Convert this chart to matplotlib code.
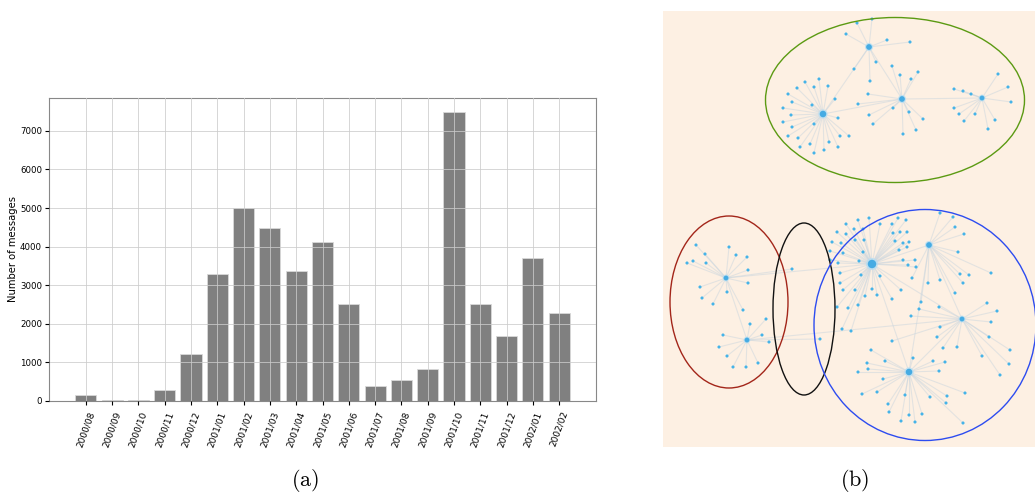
import matplotlib
matplotlib.use("Agg")
import matplotlib.pyplot as plt
from matplotlib.patches import Ellipse, Rectangle

plt.rcParams["mathtext.fontset"] = "cm"

# (a) monthly message counts
months = ["2000/08", "2000/09", "2000/10", "2000/11", "2000/12", "2001/01",
          "2001/02", "2001/03", "2001/04", "2001/05", "2001/06", "2001/07",
          "2001/08", "2001/09", "2001/10", "2001/11", "2001/12", "2002/01",
          "2002/02"]
messages = [160, 30, 30, 290, 1230, 3280, 5000, 4480, 3370, 4130, 2520, 380,
            540, 830, 7490, 2520, 1680, 3700, 2270]

# (b) communication graph layout (panel pixel units), hubs and their leaves
hub_names = ["A", "B", "C", "D", "E", "F", "G", "H", "I", "J"]
hub_x = [823, 902, 869, 982, 726, 747, 872, 929, 962, 909]
hub_y = [114, 99, 47, 98, 278, 340, 264, 245, 319, 372]
hub_rank = [3, 2, 2, 1, 1, 1, 6, 2, 1, 3]

leaves = {
    "A": [(783, 108), (788, 94), (792, 102), (791, 115), (783, 122), (792, 127),
          (788, 136), (798, 138), (800, 147), (810, 144), (814, 153), (824, 150),
          (829, 142), (838, 147), (840, 136), (849, 136), (838, 118), (814, 124),
          (812, 105), (805, 82), (797, 88), (814, 87), (819, 79), (828, 86),
          (835, 99)],
    "B": [(900, 75), (911, 79), (918, 72), (868, 94), (858, 104), (869, 115),
          (873, 124), (893, 108), (909, 112), (923, 119), (916, 130), (903, 134),
          (892, 66)],
    "C": [(846, 34), (857, 23), (872, 19), (887, 40), (910, 42), (876, 62),
          (854, 69), (870, 81)],
    "D": [(954, 89), (963, 91), (971, 94), (954, 108), (959, 114), (964, 121),
          (975, 114), (995, 120), (988, 129), (998, 74), (1008, 87), (1011, 102)],
    "E": [(696, 245), (687, 263), (693, 261), (705, 254), (706, 263), (729, 247),
          (736, 255), (747, 257), (748, 270), (748, 283), (727, 292), (700, 287),
          (702, 298), (713, 304), (743, 310), (792, 269)],
    "F": [(766, 319), (750, 324), (762, 335), (769, 342), (723, 335), (719, 347),
          (727, 356), (733, 367), (746, 367), (758, 363), (820, 339)],
    "G": [(846, 224), (858, 220), (869, 218), (880, 224), (837, 232), (846, 234),
          (854, 229), (863, 229), (832, 242), (841, 243), (855, 240), (864, 240),
          (830, 251), (843, 253), (863, 252), (859, 261), (838, 263), (830, 260),
          (840, 273), (861, 275), (840, 283), (843, 290), (855, 290), (872, 289),
          (877, 295), (865, 296), (880, 276), (892, 299), (901, 290), (837, 307),
          (848, 308), (858, 305), (842, 329), (851, 331), (892, 224), (898, 218),
          (906, 220), (893, 233), (900, 232), (907, 232), (895, 241), (903, 243),
          (909, 242), (899, 250), (907, 247), (903, 260), (908, 265), (915, 260),
          (916, 267)],
    "H": [(940, 213), (953, 217), (955, 227), (964, 234), (958, 252), (912, 278),
          (928, 283), (960, 274), (969, 275), (991, 273), (963, 283), (955, 293),
          (940, 280), (921, 302)],
    "I": [(987, 303), (997, 311), (991, 322), (989, 337), (940, 327), (939, 307),
          (957, 347), (982, 356), (1010, 350), (1009, 364), (1000, 375), (937, 337),
          (892, 341), (919, 309), (911, 316), (943, 348)],
    "J": [(913, 358), (933, 361), (945, 362), (885, 361), (868, 369), (858, 372),
          (862, 394), (877, 392), (888, 404), (889, 412), (901, 421), (909, 415),
          (915, 422), (922, 414), (905, 395), (965, 393), (963, 423), (883, 379),
          (939, 371), (930, 397), (947, 396), (946, 403), (867, 363), (871, 350)],
}
hub_links = [("A", "B"), ("B", "C"), ("A", "C"), ("B", "D"), ("E", "F"),
             ("G", "H"), ("G", "J"), ("H", "I"), ("I", "J"), ("G", "I"),
             ("H", "J"), ("E", "G"), ("F", "I")]

# community outlines: centre, width, height, colour
groups_cx = [895, 729, 804, 925]
groups_cy = [100, 302, 309, 325]
groups_w = [259, 118, 62, 222]
groups_h = [165, 172, 172, 231]
groups_color = ["#5b9a12", "#a3261a", "#111111", "#2d4cf0"]

fig = plt.figure(figsize=(10.35, 4.93), dpi=100)

# ---- (a) bar chart
ax = fig.add_axes([49 / 1035, 1 - 401 / 493, 547 / 1035, 303 / 493])
x = range(len(months))
ax.bar(x, messages, width=0.8, color="#808080", edgecolor="#d9d9d9",
       linewidth=0.6, zorder=1)
ax.grid(True, color="#cccccc", linewidth=0.7, alpha=0.8, zorder=3)
ax.set_axisbelow(False)
ax.set_xlim(-1.4, 19.4)
ax.set_ylim(0, 7850)
ax.set_yticks(range(0, 8000, 1000))
ax.set_xticks(list(x))
ax.set_xticklabels(months, rotation=70, fontsize=6.5, ha="center")
ax.tick_params(axis="y", labelsize=6.2, length=3, pad=2)
ax.tick_params(axis="x", length=3)
ax.set_ylabel("Number of messages", fontsize=7.2, labelpad=1)
ax.yaxis.set_label_coords(-0.056, 0.5)
for s in ax.spines.values():
    s.set_color("#888888")
    s.set_linewidth(0.8)

# ---- (b) graph with communities
gx = fig.add_axes([0, 0, 1, 1])
gx.set_xlim(0, 1035)
gx.set_ylim(493, 0)
gx.axis("off")
gx.add_patch(Rectangle((663, 11), 372, 436, facecolor="#fdf0e3",
                       edgecolor="none", zorder=0))

pos = {n: (hx, hy) for n, hx, hy in zip(hub_names, hub_x, hub_y)}
edge_kw = dict(color="#c9d5de", linewidth=0.8, alpha=0.5, zorder=1)
for hub, pts in leaves.items():
    hx, hy = pos[hub]
    for px, py in pts:
        gx.plot([hx, px], [hy, py], **edge_kw)
for a, b in hub_links:
    gx.plot([pos[a][0], pos[b][0]], [pos[a][1], pos[b][1]], **edge_kw)

for pts in leaves.values():
    gx.scatter([p[0] for p in pts], [p[1] for p in pts], s=5,
               color="#45b3e8", edgecolors="none", zorder=3)
sizes = [7 + 5 * r for r in hub_rank]
gx.scatter(hub_x, hub_y, s=[v * 2.0 for v in sizes], color="#b5def4",
           edgecolors="none", alpha=0.8, zorder=3)
gx.scatter(hub_x, hub_y, s=sizes, color="#45abe3", edgecolors="none", zorder=4)

for cx, cy, w, h, c in zip(groups_cx, groups_cy, groups_w, groups_h, groups_color):
    gx.add_patch(Ellipse((cx, cy), w, h, fill=False, edgecolor=c,
                         linewidth=1.0, zorder=5))

fig.text(305 / 1035, 1 - 480 / 493, r"$\mathrm{(a)}$", fontsize=16,
         ha="center", va="center")
fig.text(855 / 1035, 1 - 480 / 493, r"$\mathrm{(b)}$", fontsize=16,
         ha="center", va="center")

fig.savefig("out.png", dpi=100)
